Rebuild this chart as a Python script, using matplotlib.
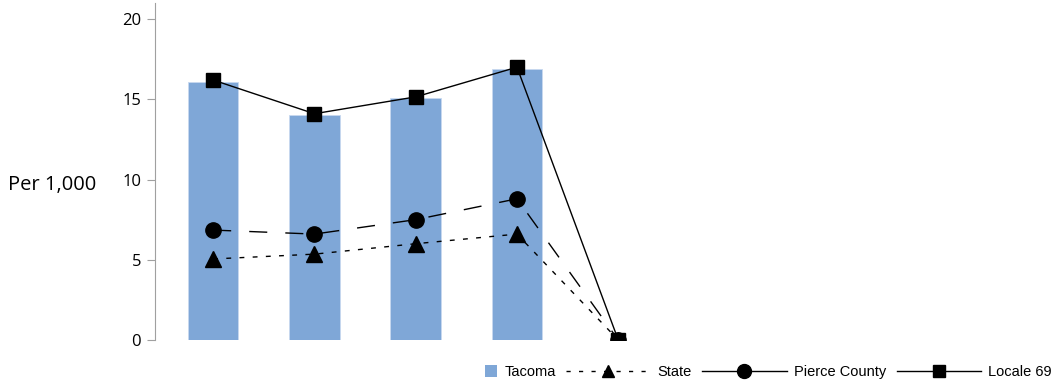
import matplotlib
matplotlib.use("Agg")
import matplotlib.pyplot as plt
from matplotlib.lines import Line2D
from matplotlib.patches import Rectangle, Patch
from matplotlib.legend_handler import HandlerPatch

categories = ["1", "2", "3", "4", "5"]
tacoma = [16.1, 14.0, 15.1, 16.9, 0.0]
state = [5.05, 5.35, 6.0, 6.6, 0.0]
pierce = [6.85, 6.6, 7.5, 8.8, 0.0]
locale69 = [16.2, 14.1, 15.15, 17.0, 0.0]
yticks = [0, 5, 10, 15, 20]

W, H = 1053, 385
fig = plt.figure(figsize=(W / 100, H / 100), dpi=100)
ax = fig.add_axes([155 / W, 45 / H, (1045 - 155) / W, 337 / H])

x = list(range(len(categories)))
bar_color = "#7fa7d7"
ax.bar(x[:4], tacoma[:4], width=0.5, color=bar_color, edgecolor="#c8d9ef", linewidth=0.6, zorder=1)

ax.plot(x, state, color="black", linewidth=1.0, linestyle=(0, (3.5, 6)),
        marker="^", markersize=11, zorder=3)
ax.plot(x, pierce, color="black", linewidth=1.0, linestyle=(0, (13, 13)),
        marker="o", markersize=11, zorder=3)
ax.plot(x, locale69, color="black", linewidth=1.0, linestyle="-",
        marker="s", markersize=10, zorder=3)

ax.set_xlim(-0.574, (1045 - 213) / 101.3 - 0.0)
ax.set_ylim(0, 21)
ax.set_yticks(yticks)
ax.set_xticks([])
for s in ["top", "right", "bottom"]:
    ax.spines[s].set_visible(False)
ax.spines["left"].set_color("#a0a0a0")
ax.tick_params(axis="y", direction="out", length=6, color="#a0a0a0",
               labelsize=12, pad=4)
for lab in ax.get_yticklabels():
    lab.set_family(["Open Sans", "DejaVu Sans"])

fig.text(8 / W, 1 - 185 / H, "Per 1,000", fontsize=14.5, va="center", ha="left",
         family=["Open Sans", "DejaVu Sans"])


def small_square(legend, orig_handle, xdescent, ydescent, width, height, fontsize):
    s = 12 * 0.72
    return Rectangle((width - s - xdescent, -ydescent + (height - s) / 2), s, s)


h_tac = Patch(facecolor=bar_color, edgecolor="none")
h_state = Line2D([], [], color="black", linewidth=1.0, linestyle=(0, (3, 6)),
                 marker="^", markersize=9)
h_pierce = Line2D([], [], color="black", linewidth=1.0, linestyle="-",
                  marker="o", markersize=10)
h_loc = Line2D([], [], color="black", linewidth=1.0, linestyle="-",
               marker="s", markersize=9)

leg = fig.legend([h_tac, h_state, h_pierce, h_loc],
                 ["Tacoma", "State", "Pierce County", "Locale 69"],
                 loc="center right", bbox_to_anchor=(1052 / W, 1 - 372 / H),
                 ncol=4, frameon=False, handlelength=5.8, handletextpad=0.5,
                 columnspacing=0.7, borderpad=0, borderaxespad=0,
                 prop={"family": ["Liberation Sans", "DejaVu Sans"], "size": 10.5},
                 handler_map={h_tac: HandlerPatch(patch_func=small_square)})

fig.savefig("out.png", dpi=100)
